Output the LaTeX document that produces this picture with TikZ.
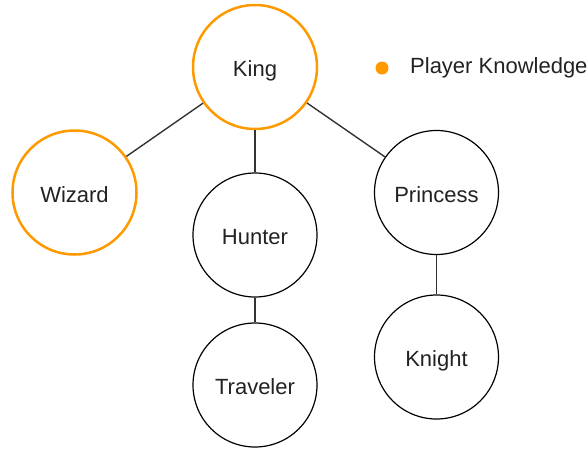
\documentclass[tikz,border=0pt]{standalone}
\usepackage{fontspec}
\setmainfont{Liberation Sans}
\definecolor{kOrange}{HTML}{FF9900}
\definecolor{kText}{HTML}{222222}
\definecolor{kLine}{HTML}{333333}
\tikzset{
  person/.style={circle, draw=black, line width=1.2pt, minimum size=124pt, inner sep=0pt, fill=white, text=kText, text height=19pt, text depth=0pt, font=\fontsize{22}{26}\selectfont},
  known/.style={person, draw=kOrange, line width=2.5pt},
  link/.style={draw=kLine, line width=1.4pt},
  legdot/.style={circle, fill=kOrange, minimum size=13pt, inner sep=0pt},
  legtext/.style={anchor=west, text=kText, inner sep=0pt, font=\fontsize{22}{26}\selectfont}
}
\begin{document}
\begin{tikzpicture}[x=1pt, y=-1pt]
\useasboundingbox (0,0) rectangle (587,448);
\node[known] (king) at (255,67) {King};
\node[known] (wizard) at (74.5,192.5) {Wizard};
\node[person] (hunter) at (255,235) {Hunter};
\node[person] (princess) at (436.5,192.5) {Princess};
\node[person] (traveler) at (255,385) {Traveler};
\node[person] (knight) at (436.5,357) {Knight};
\draw[link] (king) -- (wizard);
\draw[link] (king) -- (hunter);
\draw[link] (king) -- (princess);
\draw[link] (hunter) -- (traveler);
\draw[link] (princess) -- (knight);
\node[legdot] (dot) at (382,68) {};
\node[legtext] (legend) at (410,68) {Player Knowledge};
\end{tikzpicture}
\end{document}
